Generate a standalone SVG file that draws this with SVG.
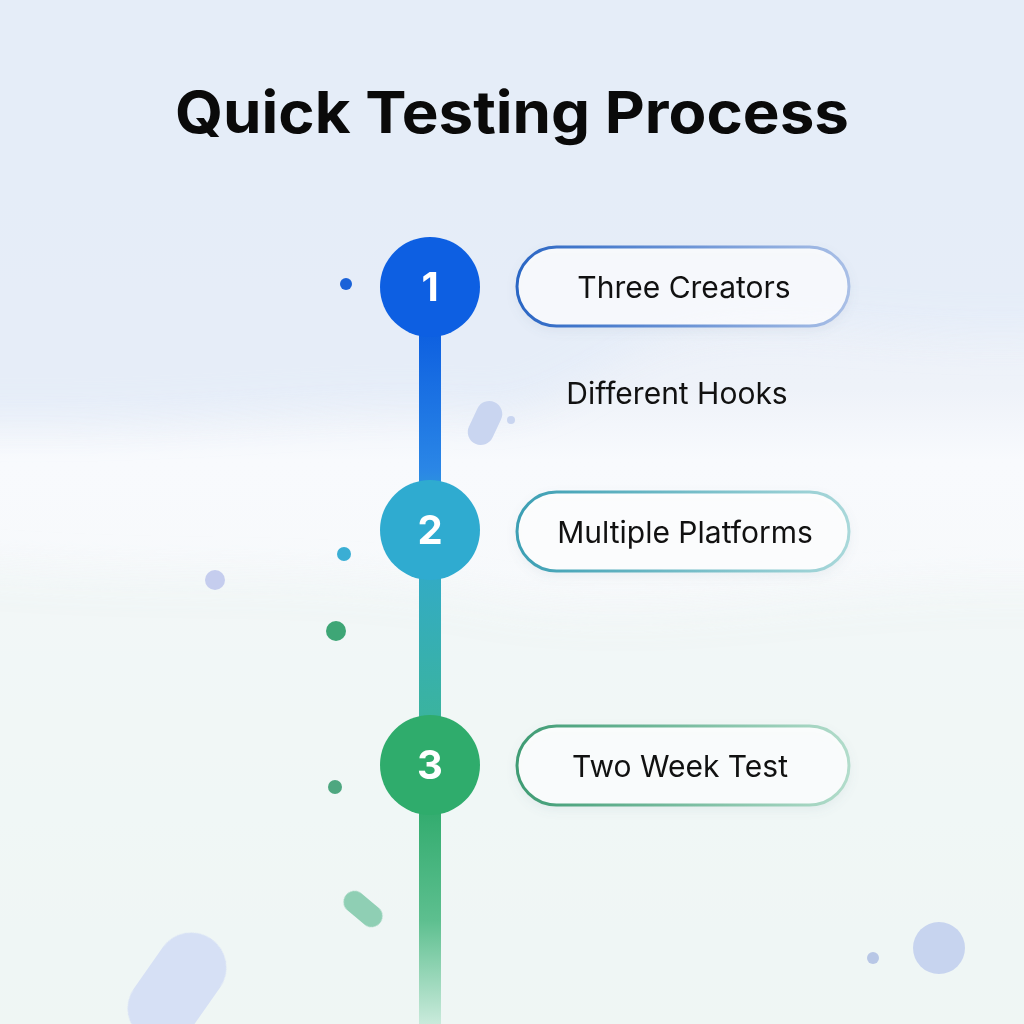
<svg xmlns="http://www.w3.org/2000/svg" width="1024" height="1024" viewBox="0 0 1024 1024">
  <defs>
    <linearGradient id="bg" x1="0" y1="0" x2="0" y2="1">
      <stop offset="0" stop-color="#eaf0f9"/>
      <stop offset="0.38" stop-color="#eef2f9"/>
      <stop offset="0.45" stop-color="#f8fafd"/>
      <stop offset="0.6" stop-color="#f7f9fb"/>
      <stop offset="1" stop-color="#eef5f3"/>
    </linearGradient>
    <linearGradient id="spine" x1="0" y1="330" x2="0" y2="1024" gradientUnits="userSpaceOnUse">
      <stop offset="0" stop-color="#0d5fe0"/>
      <stop offset="0.2" stop-color="#2a86e6"/>
      <stop offset="0.28" stop-color="#30a8d2"/>
      <stop offset="0.55" stop-color="#3ab3a0"/>
      <stop offset="0.68" stop-color="#2faa6c"/>
      <stop offset="0.85" stop-color="#5dbf8f"/>
      <stop offset="1" stop-color="#c9eadb"/>
    </linearGradient>
    <linearGradient id="p1" x1="0" y1="0" x2="1" y2="0">
      <stop offset="0" stop-color="#2a66c4"/>
      <stop offset="1" stop-color="#a9bfe6"/>
    </linearGradient>
    <linearGradient id="p2" x1="0" y1="0" x2="1" y2="0">
      <stop offset="0" stop-color="#3c9fb4"/>
      <stop offset="1" stop-color="#a9d8da"/>
    </linearGradient>
    <linearGradient id="p3" x1="0" y1="0" x2="1" y2="0">
      <stop offset="0" stop-color="#3f9c74"/>
      <stop offset="1" stop-color="#b2dccb"/>
    </linearGradient>
    <filter id="soft" filterUnits="userSpaceOnUse" x="-200" y="-200" width="1424" height="1424">
      <feGaussianBlur stdDeviation="18"/>
    </filter>
    <filter id="shadow" x="-10%" y="-20%" width="120%" height="160%">
      <feDropShadow dx="0" dy="4" stdDeviation="5" flood-color="#6b7f99" flood-opacity="0.10"/>
    </filter>
    <style>
      .title { font-family: "Inter", "Liberation Sans", sans-serif; font-weight: 700; font-size: 58px; fill: #0a0a0a; }
      .label { font-family: "Inter", "Liberation Sans", sans-serif; font-weight: 400; font-size: 30px; fill: #111111; }
      .num { font-family: "Inter", "Liberation Sans", sans-serif; font-weight: 700; font-size: 40px; fill: #ffffff; }
      .pill { fill: #ffffff; fill-opacity: 0.7; stroke-width: 3; }
    </style>
  </defs>

  <!-- background -->
  <rect width="1024" height="1024" fill="url(#bg)"/>
  <g filter="url(#soft)" opacity="0.85">
    <path d="M-100 -100 H1124 V330 C900 350 820 310 700 330 C600 350 560 420 470 410 C330 400 200 430 -100 420 Z" fill="#e4ecf8"/>
    <path d="M-100 560 C200 590 300 560 500 600 C700 630 850 570 1124 590 V1124 H-100 Z" fill="#eef5f4" opacity="0.8"/>
  </g>

  <!-- decorations -->
  <g id="decor">
    <circle cx="346" cy="284" r="6" fill="#1a62d8"/>
    <rect x="472" y="400" width="26" height="46" rx="13" fill="#c9d5f0" transform="rotate(25 485 423)"/>
    <circle cx="511" cy="420" r="4" fill="#c9d5f0"/>
    <circle cx="344" cy="554" r="7" fill="#3aaed4"/>
    <circle cx="215" cy="580" r="10" fill="#c5cdee"/>
    <circle cx="336" cy="631" r="10" fill="#3ea676"/>
    <circle cx="335" cy="787" r="7" fill="#4ea780"/>
    <rect x="341" y="898" width="44" height="22" rx="11" fill="#8fcfb4" transform="rotate(40 363 909)"/>
    <rect x="142" y="928" width="70" height="120" rx="35" fill="#d6e0f5" transform="rotate(35 177 988)"/>
    <circle cx="939" cy="948" r="26" fill="#c7d4ef"/>
    <circle cx="873" cy="958" r="6" fill="#b8c7e6"/>
  </g>

  <!-- title -->
  <text class="title" x="512" y="133" text-anchor="middle" textLength="674" lengthAdjust="spacingAndGlyphs">Quick Testing Process</text>

  <!-- connectors -->
  <g id="connectors">
    <rect x="419" y="320" width="22" height="704" fill="url(#spine)"/>
  </g>

  <!-- nodes -->
  <g id="step1">
    <circle cx="430" cy="287" r="50" fill="#0d5fe2"/>
    <text class="num" x="430" y="301" text-anchor="middle">1</text>
    <rect class="pill" x="517" y="247" width="332" height="79" rx="39.5" stroke="url(#p1)" filter="url(#shadow)"/>
    <text class="label" x="684" y="298" text-anchor="middle">Three Creators</text>
  </g>
  <g id="step1-sub">
    <text class="label" x="677" y="404" text-anchor="middle">Different Hooks</text>
  </g>
  <g id="step2">
    <circle cx="430" cy="530" r="50" fill="#2fabd0"/>
    <text class="num" x="430" y="544" text-anchor="middle">2</text>
    <rect class="pill" x="517" y="492" width="332" height="79" rx="39.5" stroke="url(#p2)" filter="url(#shadow)"/>
    <text class="label" x="685" y="543" text-anchor="middle">Multiple Platforms</text>
  </g>
  <g id="step3">
    <circle cx="430" cy="765" r="50" fill="#2fac6c"/>
    <text class="num" x="430" y="779" text-anchor="middle">3</text>
    <rect class="pill" x="517" y="726" width="332" height="79" rx="39.5" stroke="url(#p3)" filter="url(#shadow)"/>
    <text class="label" x="680" y="777" text-anchor="middle">Two Week Test</text>
  </g>
</svg>
